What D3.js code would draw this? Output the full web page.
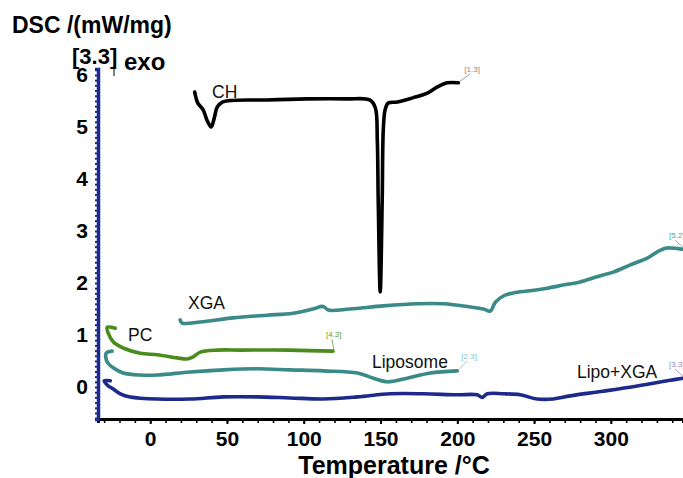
<!doctype html>
<html lang="en">
<head>
    <meta charset="UTF-8">
    <script src="https://cdnjs.cloudflare.com/ajax/libs/d3/7.8.5/d3.min.js"></script>
    <title>DSC</title>
    <style>
        body { margin: 0; background: #fff; }
        text { font-family: "Liberation Sans", Arial, sans-serif; }
    </style>
</head>
<body>
<div id="viz_area"></div>

<script>
    // temperature (°C) / DSC (mW/mg) pairs
    const chT = [29, 31, 34.5, 37, 39.7, 41.7, 43.6, 47, 76, 102, 128, 143, 146.6, 147.9, 148.5, 149.8, 151.1, 151.8, 153, 155, 161, 171, 180.5, 187, 193.5, 200.7];
    const chV = [5.67, 5.46, 5.33, 5.13, 5.0, 5.17, 5.38, 5.48, 5.52, 5.54, 5.54, 5.52, 5.37, 4.75, 3.6, 1.83, 3.6, 4.94, 5.33, 5.46, 5.48, 5.56, 5.65, 5.77, 5.85, 5.85];

    const xgaT = [19.5, 20.8, 32.6, 54, 76, 93, 106, 112.7, 116, 130, 152, 174, 191, 208.5, 217, 221.5, 224.8, 230, 236.5, 247.6, 258.6, 269, 280, 291, 301.6, 312.7, 323.8, 330.3, 335.5, 340.7, 347];
    const xgaV = [1.29, 1.23, 1.25, 1.33, 1.38, 1.42, 1.50, 1.55, 1.48, 1.50, 1.56, 1.60, 1.60, 1.54, 1.50, 1.46, 1.63, 1.75, 1.81, 1.85, 1.90, 1.96, 2.02, 2.12, 2.21, 2.35, 2.48, 2.60, 2.67, 2.67, 2.65];

    const pcT = [-22.8, -28, -27.4, -24.1, -17.6, -6.5, 4.6, 17.6, 24.1, 28, 32.6, 43.6, 58.6, 91, 119];
    const pcV = [1.13, 1.15, 1.04, 0.87, 0.75, 0.65, 0.62, 0.56, 0.54, 0.58, 0.67, 0.71, 0.71, 0.71, 0.69];

    const lipoT = [-24.8, -28.7, -28, -24.1, -17.6, -6.5, 4.6, 26, 47.6, 69.7, 91, 112.7, 135, 145.3, 154.4, 167.4, 182.4, 200];
    const lipoV = [0.69, 0.65, 0.48, 0.37, 0.27, 0.23, 0.23, 0.29, 0.33, 0.35, 0.33, 0.31, 0.27, 0.17, 0.10, 0.17, 0.27, 0.31];

    const mixT = [-26, -30, -28, -24.1, -19.5, -13, 4.6, 26, 47.6, 69.7, 91, 112.7, 135, 156.4, 178, 200, 213, 216.3, 219.5, 230, 241, 252, 262.5, 273.6, 295, 317.3, 338.8, 347];
    const mixV = [0.12, 0.12, 0.04, -0.04, -0.13, -0.19, -0.23, -0.23, -0.19, -0.19, -0.21, -0.23, -0.19, -0.13, -0.13, -0.15, -0.15, -0.20, -0.13, -0.13, -0.15, -0.23, -0.23, -0.17, -0.08, 0.02, 0.13, 0.17];

    const seriesNames = ["CH", "XGA", "PC", "Liposome", "Lipo+XGA"];
    const segTags = ["[1.3]", "[5.2]", "[4.3]", "[2.3]", "[3.3]"];
    const yTicks = [0, 1, 2, 3, 4, 5, 6];
    const xTicks = [0, 50, 100, 150, 200, 250, 300];

    const width = 683, height = 478;

    const svg = d3.select('#viz_area')
        .append("svg")
        .attr("width", width)
        .attr("height", height);

    const x = d3.scaleLinear().domain([-34, 347]).range([98, 683]);
    const y = d3.scaleLinear().domain([-0.615, 6.115]).range([419, 69]);

    const zip = (ts, vs) => ts.map((t, i) => ({t: t, v: vs[i]}));
    const series = [
        {name: seriesNames[0], pts: zip(chT, chV), color: "#000000", tag: segTags[0], tagColor: "#888888",
            lab: [212, 98], tagOff: [6, -11]},
        {name: seriesNames[1], pts: zip(xgaT, xgaV), color: "#3a8a87", tag: segTags[1], tagColor: "#4aa6a0",
            lab: [188, 309], tagOff: [-14, -11]},
        {name: seriesNames[2], pts: zip(pcT, pcV), color: "#4a8c1c", tag: segTags[2], tagColor: "#5aa030",
            lab: [128, 341], tagOff: [-7, -14]},
        {name: seriesNames[3], pts: zip(lipoT, lipoV), color: "#3a8a87", tag: segTags[3], tagColor: "#7fc4d0",
            lab: [372, 368], tagOff: [4, -12]},
        {name: seriesNames[4], pts: zip(mixT, mixV), color: "#1d2a8c", tag: segTags[4], tagColor: "#8a8ad0",
            lab: [577, 378], tagOff: [-14, -11]}
    ];

    const line = d3.line()
        .x(d => x(d.t))
        .y(d => y(d.v))
        .curve(d3.curveCatmullRom.alpha(0.5));

    // curves
    svg.append("g").selectAll("path")
        .data(series)
        .join("path")
        .attr("d", d => line(d.pts))
        .attr("fill", "none")
        .attr("stroke", d => d.color)
        .attr("stroke-width", 3.6)
        .attr("stroke-linejoin", "round")
        .attr("stroke-linecap", "round");

    // curve names
    svg.append("g").selectAll("text")
        .data(series)
        .join("text")
        .attr("x", d => d.lab[0])
        .attr("y", d => d.lab[1])
        .attr("font-size", 17.5)
        .attr("fill", "#111")
        .text(d => d.name);

    // segment tags with small leader lines
    const tags = svg.append("g").selectAll("g")
        .data(series)
        .join("g")
        .attr("transform", d => {
            const e = d.pts[d.pts.length - 1];
            return `translate(${x(e.t)},${y(e.v)})`;
        });
    tags.append("line")
        .attr("x1", 1).attr("y1", -1)
        .attr("x2", d => d.tagOff[0] + 6).attr("y2", d => d.tagOff[1] + 2)
        .attr("stroke", d => d.tagColor)
        .attr("stroke-width", 0.8);
    tags.append("text")
        .attr("x", d => d.tagOff[0])
        .attr("y", d => d.tagOff[1])
        .attr("font-size", 8)
        .attr("fill", d => d.tagColor)
        .text(d => d.tag);

    // x axis
    const xMinor = d3.range(-30, 347, 10);
    const gx = svg.append("g").attr("transform", `translate(0,${y.range()[0]})`);
    gx.call(d3.axisBottom(x).tickValues(xMinor).tickSize(4).tickFormat(""))
        .call(g => g.select(".domain").attr("stroke", "#000").attr("stroke-width", 3));
    gx.selectAll(".tick line").attr("stroke-width", 1.6);
    const gxl = svg.append("g").attr("transform", `translate(0,${y.range()[0]})`)
        .call(d3.axisBottom(x).tickValues(xTicks).tickSize(5).tickPadding(7).tickFormat(d3.format("d")));
    gxl.select(".domain").remove();
    gxl.selectAll(".tick line").attr("stroke-width", 2);
    gxl.selectAll("text")
        .attr("font-family", "Liberation Sans, Arial, sans-serif")
        .attr("font-size", 21)
        .attr("font-weight", "bold")
        .attr("fill", "#000");

    // y axis
    const yMinor = d3.range(-0.6, 6.1, 0.1);
    const gy = svg.append("g").attr("transform", `translate(${x.range()[0]},0)`);
    gy.call(d3.axisLeft(y).tickValues(yMinor).tickSize(3).tickFormat(""))
        .call(g => g.select(".domain").attr("stroke", "#1d2a8c").attr("stroke-width", 3.5));
    gy.selectAll(".tick line").attr("stroke", "#1d2a8c").attr("stroke-width", 2);
    const gyl = svg.append("g").attr("transform", `translate(${x.range()[0]},0)`)
        .call(d3.axisLeft(y).tickValues(yTicks).tickSize(0).tickPadding(10).tickFormat(d3.format("d")));
    gyl.select(".domain").remove();
    gyl.selectAll("text")
        .attr("font-family", "Liberation Sans, Arial, sans-serif")
        .attr("font-size", 21)
        .attr("font-weight", "bold")
        .attr("fill", "#000");

    // titles
    svg.append("text")
        .attr("x", 12).attr("y", 33)
        .attr("font-size", 23).attr("font-weight", "bold")
        .text("DSC /(mW/mg)");
    svg.append("text")
        .attr("x", 72).attr("y", 64)
        .attr("font-size", 22).attr("font-weight", "bold")
        .text("[3.3]");
    svg.append("line")
        .attr("x1", 114).attr("x2", 114).attr("y1", 66).attr("y2", 76)
        .attr("stroke", "#000").attr("stroke-width", 1);
    svg.append("text")
        .attr("x", 124).attr("y", 70)
        .attr("font-size", 24).attr("font-weight", "bold")
        .text("exo");
    svg.append("text")
        .attr("x", 394).attr("y", 474)
        .attr("text-anchor", "middle")
        .attr("font-size", 25).attr("font-weight", "bold")
        .text("Temperature /°C");
</script>
</body>
</html>
